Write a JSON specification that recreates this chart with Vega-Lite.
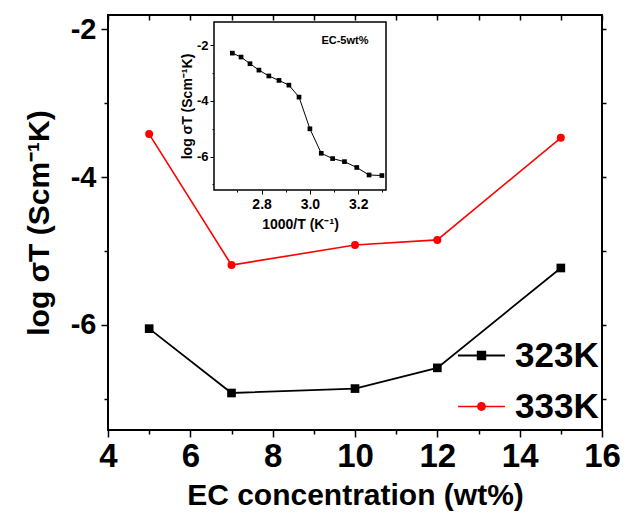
{
  "$schema": "https://vega.github.io/schema/vega-lite/v6.json",
  "width": 494,
  "height": 415,
  "autosize": {"type": "none"},
  "padding": {"left": 108, "top": 15, "right": 39, "bottom": 85},
  "background": "white",
  "config": {
    "font": "Liberation Sans",
    "view": {"stroke": "black", "strokeWidth": 2},
    "axis": {"grid": false, "labelColor": "black", "titleColor": "black", "tickColor": "black", "domainColor": "black"}
  },
  "datasets": {
    "main": [
      {"conc": 5, "temp": "323K", "logst": -6.05},
      {"conc": 7, "temp": "323K", "logst": -6.92},
      {"conc": 10, "temp": "323K", "logst": -6.86},
      {"conc": 12, "temp": "323K", "logst": -6.58},
      {"conc": 15, "temp": "323K", "logst": -5.23},
      {"conc": 5, "temp": "333K", "logst": -3.42},
      {"conc": 7, "temp": "333K", "logst": -5.19},
      {"conc": 10, "temp": "333K", "logst": -4.92},
      {"conc": 12, "temp": "333K", "logst": -4.85},
      {"conc": 15, "temp": "333K", "logst": -3.47}
    ],
    "inset": [
      {"invT": 2.679, "logst": -2.28},
      {"invT": 2.715, "logst": -2.42},
      {"invT": 2.752, "logst": -2.66},
      {"invT": 2.789, "logst": -2.89},
      {"invT": 2.830, "logst": -3.10},
      {"invT": 2.872, "logst": -3.26},
      {"invT": 2.913, "logst": -3.43},
      {"invT": 2.955, "logst": -3.86},
      {"invT": 3.000, "logst": -5.00},
      {"invT": 3.047, "logst": -5.88},
      {"invT": 3.094, "logst": -6.07},
      {"invT": 3.143, "logst": -6.18},
      {"invT": 3.194, "logst": -6.39},
      {"invT": 3.245, "logst": -6.66},
      {"invT": 3.298, "logst": -6.68}
    ],
    "label": [{"text": "EC-5wt%", "x": 3.145, "y": -1.85}]
  },
  "resolve": {
    "scale": {"x": "independent", "y": "independent"},
    "axis": {"x": "independent", "y": "independent"}
  },
  "layer": [
    {
      "data": {"name": "main"},
      "encoding": {
        "x": {
          "field": "conc", "type": "quantitative",
          "scale": {"domain": [4, 16], "nice": false, "zero": false},
          "axis": {
            "orient": "bottom",
            "values": [4, 5, 6, 7, 8, 9, 10, 11, 12, 13, 14, 15, 16],
            "labelExpr": "datum.value % 2 == 0 ? toString(datum.value) : ''",
            "labelOverlap": false, "labelFlush": false,
            "tickSize": {"condition": {"test": "datum.value % 2 == 1", "value": 4}, "value": 7},
            "tickWidth": 1.5,
            "domain": false,
            "labelFontSize": 33, "labelFontWeight": "bold", "labelPadding": 3,
            "title": "EC concentration (wt%)",
            "titleFontSize": 30, "titleFontWeight": "bold", "titlePadding": 7
          }
        },
        "y": {
          "field": "logst", "type": "quantitative",
          "scale": {"domain": [-7.42, -1.81], "nice": false, "zero": false},
          "axis": {
            "orient": "left",
            "values": [-7, -6, -5, -4, -3, -2],
            "labelExpr": "abs(datum.value) % 2 == 0 ? toString(datum.value) : ''",
            "labelOverlap": false, "labelFlush": false,
            "tickSize": {"condition": {"test": "abs(datum.value) % 2 == 1", "value": 4}, "value": 7},
            "tickWidth": 1.5,
            "domain": false,
            "labelFontSize": 29, "labelFontWeight": "bold", "labelPadding": 5,
            "title": "log σT (Scm⁻¹K)",
            "titleFontSize": 30, "titleFontWeight": "bold", "titlePadding": 16
          }
        }
      },
      "layer": [
        {
          "mark": {"type": "point", "filled": true, "opacity": 0},
          "encoding": {
            "color": {
              "field": "temp", "type": "nominal",
              "scale": {"domain": ["323K", "333K"], "range": ["black", "#ff0000"]},
              "legend": {
                "orient": "none", "legendX": 350, "legendY": 317, "title": null,
                "labelFontSize": 35, "labelFontWeight": "bold", "labelColor": "black", "labelOffset": 10,
                "symbolSize": 2200, "symbolOpacity": 1, "symbolStrokeWidth": 0, "rowPadding": 9
              }
            },
            "shape": {
              "field": "temp", "type": "nominal",
              "scale": {"domain": ["323K", "333K"], "range": ["M-1,-0.04H1V0.04H-1ZM-0.2,-0.2H0.2V0.2H-0.2Z", "M-1,-0.03H1V0.03H-1ZM-0.19,0A0.19,0.19 0 1,1 0.19,0A0.19,0.19 0 1,1 -0.19,0Z"]},
              "legend": {
                "orient": "none", "legendX": 350, "legendY": 317, "title": null,
                "labelFontSize": 35, "labelFontWeight": "bold", "labelColor": "black", "labelOffset": 10,
                "symbolSize": 2200, "symbolOpacity": 1, "symbolStrokeWidth": 0, "rowPadding": 9
              }
            }
          }
        },
        {
          "transform": [{"filter": "datum.temp === '323K'"}],
          "mark": {"type": "line", "color": "black", "strokeWidth": 1.8}
        },
        {
          "transform": [{"filter": "datum.temp === '333K'"}],
          "mark": {"type": "line", "color": "#ff0000", "strokeWidth": 1.6}
        },
        {
          "transform": [{"filter": "datum.temp === '323K'"}],
          "mark": {"type": "square", "color": "black", "opacity": 1, "size": 75}
        },
        {
          "transform": [{"filter": "datum.temp === '333K'"}],
          "mark": {"type": "circle", "color": "#ff0000", "opacity": 1, "size": 64}
        }
      ]
    },
    {
      "data": {"name": "main"},
      "mark": {"type": "point", "opacity": 0},
      "encoding": {
        "x": {
          "field": "conc", "type": "quantitative",
          "scale": {"domain": [4, 16], "nice": false, "zero": false},
          "axis": {"orient": "top", "values": [4, 5, 6, 7, 8, 9, 10, 11, 12, 13, 14, 15, 16], "labels": false, "domain": false, "tickSize": -5, "tickWidth": 1.5, "title": null}
        },
        "y": {
          "field": "logst", "type": "quantitative",
          "scale": {"domain": [-7.42, -1.81], "nice": false, "zero": false},
          "axis": {"orient": "right", "values": [-7, -6, -5, -4, -3, -2], "labels": false, "domain": false, "tickSize": 4, "tickWidth": 1.5, "title": null}
        }
      }
    },
    {
      "layer": [
        {
          "data": {"values": [{}]},
          "mark": {"type": "rect", "fill": "white", "stroke": "black", "strokeWidth": 1.5},
          "encoding": {
            "x": {
              "datum": 2.603, "type": "quantitative",
              "scale": {"domain": [2.603, 3.315], "range": [106, 278], "nice": false, "zero": false},
              "axis": {
                "orient": "bottom", "offset": -240,
                "values": [2.7, 2.8, 2.9, 3.0, 3.1, 3.2, 3.3],
                "labelExpr": "round(datum.value * 10) % 2 == 0 ? format(datum.value, '.1f') : ''",
                "labelOverlap": false, "labelFlush": false,
                "tickSize": {"condition": {"test": "round(datum.value * 10) % 2 == 1", "value": 2}, "value": 4},
                "tickWidth": 1,
                "domain": false,
                "labelFontSize": 14, "labelFontWeight": "bold", "labelPadding": 3,
                "title": "1000/T (K⁻¹)",
                "titleFontSize": 14, "titleFontWeight": "bold", "titlePadding": 6
              }
            },
            "x2": {"datum": 3.315},
            "y": {
              "datum": -7.2, "type": "quantitative",
              "scale": {"domain": [-7.2, -1.16], "range": [175, 7], "nice": false, "zero": false},
              "axis": {
                "orient": "left", "offset": -106,
                "values": [-7, -6, -5, -4, -3, -2],
                "labelExpr": "abs(datum.value) % 2 == 0 ? toString(datum.value) : ''",
                "labelOverlap": false, "labelFlush": false,
                "tickSize": {"condition": {"test": "abs(datum.value) % 2 == 1", "value": 2}, "value": 4},
                "tickWidth": 1,
                "domain": false,
                "labelFontSize": 13, "labelFontWeight": "bold", "labelPadding": 2,
                "title": "log σT (Scm⁻¹K)",
                "titleFontSize": 14, "titleFontWeight": "bold", "titlePadding": 2
              }
            },
            "y2": {"datum": -1.16}
          }
        },
        {
          "data": {"name": "inset"},
          "mark": {"type": "line", "color": "black", "strokeWidth": 1},
          "encoding": {
            "x": {"field": "invT", "type": "quantitative"},
            "y": {"field": "logst", "type": "quantitative"}
          }
        },
        {
          "data": {"name": "inset"},
          "mark": {"type": "square", "color": "black", "size": 22, "opacity": 1},
          "encoding": {
            "x": {"field": "invT", "type": "quantitative"},
            "y": {"field": "logst", "type": "quantitative"}
          }
        },
        {
          "data": {"name": "label"},
          "mark": {"type": "text", "fontSize": 11, "fontWeight": "bold", "color": "black"},
          "encoding": {
            "x": {"field": "x", "type": "quantitative"},
            "y": {"field": "y", "type": "quantitative"},
            "text": {"field": "text"}
          }
        }
      ]
    }
  ]
}
